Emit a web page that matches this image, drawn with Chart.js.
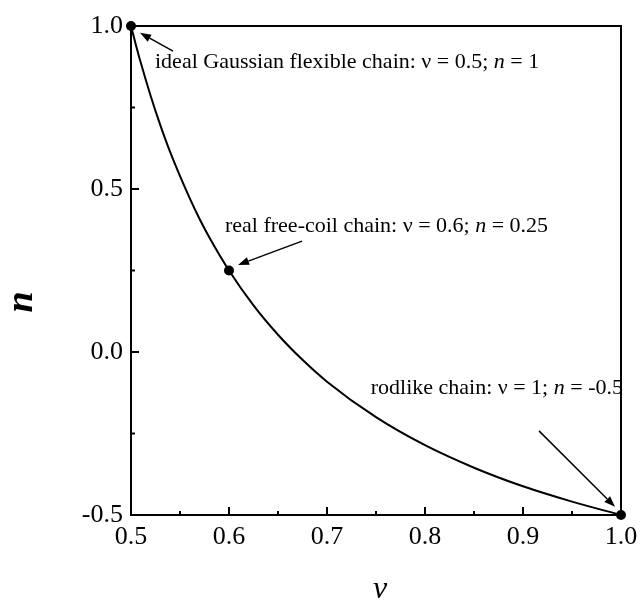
<!DOCTYPE html>
<html>
<head>
<meta charset="utf-8">
<script src="https://cdn.jsdelivr.net/npm/chart.js@4"></script>
<style>
html, body { margin: 0; padding: 0; background: #fff; }
</style>
</head>
<body>
<canvas id="chart" width="641" height="602"></canvas>
<script>
/** Data */
const nuValues = [0.5, 0.505, 0.51, 0.52, 0.53, 0.54, 0.56, 0.57, 0.58, 0.6, 0.625, 0.65, 0.675, 0.7, 0.75, 0.8, 0.85, 0.9, 0.95, 1.0];
const nValues  = [1.0, 0.942, 0.887, 0.786, 0.695, 0.613, 0.471, 0.408, 0.351, 0.25, 0.143, 0.053, -0.024, -0.091, -0.2, -0.286, -0.355, -0.412, -0.459, -0.5];

const markNu = [0.5, 0.6, 1.0];
const markN  = [1.0, 0.25, -0.5];

const xMajorTicks = [0.5, 0.6, 0.7, 0.8, 0.9, 1.0];
const xMinorTicks = [0.55, 0.65, 0.75, 0.85, 0.95];
const yMajorTicks = [-0.5, 0.0, 0.5, 1.0];
const yMinorTicks = [-0.25, 0.25, 0.75];

const NU = '\u03BD';

/** Annotations (anchor in data units) */
const notes = [
    { parts: [['ideal Gaussian flexible chain: ' + NU + ' = 0.5; ', false], ['n', true], [' = 1', false]],
      at: [0.5245, 0.871], align: 'left', tail: [0.5429, 0.923], head: [0.5092, 0.979] },
    { parts: [['real free-coil chain: ' + NU + ' = 0.6; ', false], ['n', true], [' = 0.25', false]],
      at: [0.5959, 0.368], align: 'left', tail: [0.6745, 0.340], head: [0.6092, 0.267] },
    { parts: [['rodlike chain: ' + NU + ' = 1; ', false], ['n', true], [' = -0.5', false]],
      at: [1.002, -0.129], align: 'right', tail: [0.9163, -0.242], head: [0.9939, -0.475] }
];

const SERIF = '"Liberation Serif", "Times New Roman", serif';
Chart.defaults.font.family = SERIF;
Chart.defaults.color = '#000';

const frame = {
    id: 'frame',
    afterDraw(chart) {
        const ctx = chart.ctx;
        const a = chart.chartArea;
        const x = chart.scales.x, y = chart.scales.y;
        ctx.save();
        ctx.strokeStyle = '#000';
        ctx.lineWidth = 2;
        // top and right border
        ctx.beginPath();
        ctx.moveTo(a.left, a.top);
        ctx.lineTo(a.right, a.top);
        ctx.lineTo(a.right, a.bottom);
        ctx.stroke();

        // inside ticks
        ctx.beginPath();
        xMajorTicks.forEach(v => { const p = x.getPixelForValue(v); ctx.moveTo(p, a.bottom); ctx.lineTo(p, a.bottom - 8); });
        xMinorTicks.forEach(v => { const p = x.getPixelForValue(v); ctx.moveTo(p, a.bottom); ctx.lineTo(p, a.bottom - 4); });
        yMajorTicks.forEach(v => { const p = y.getPixelForValue(v); ctx.moveTo(a.left, p); ctx.lineTo(a.left + 8, p); });
        yMinorTicks.forEach(v => { const p = y.getPixelForValue(v); ctx.moveTo(a.left, p); ctx.lineTo(a.left + 4, p); });
        ctx.stroke();

        // annotations
        ctx.fillStyle = '#000';
        ctx.textBaseline = 'alphabetic';
        ctx.textAlign = 'left';
        notes.forEach(nt => {
            const fontOf = it => (it ? 'italic ' : '') + '22px ' + SERIF;
            let total = 0;
            nt.parts.forEach(([t, it]) => { ctx.font = fontOf(it); total += ctx.measureText(t).width; });
            let px = x.getPixelForValue(nt.at[0]);
            const py = y.getPixelForValue(nt.at[1]);
            if (nt.align === 'right') px -= total;
            nt.parts.forEach(([t, it]) => { ctx.font = fontOf(it); ctx.fillText(t, px, py); px += ctx.measureText(t).width; });

            const tx = x.getPixelForValue(nt.tail[0]), ty = y.getPixelForValue(nt.tail[1]);
            const hx = x.getPixelForValue(nt.head[0]), hy = y.getPixelForValue(nt.head[1]);
            const ang = Math.atan2(hy - ty, hx - tx);
            const len = 11, half = 4;
            const bx = hx - len * Math.cos(ang), by = hy - len * Math.sin(ang);
            ctx.lineWidth = 1.5;
            ctx.beginPath();
            ctx.moveTo(tx, ty);
            ctx.lineTo(bx, by);
            ctx.stroke();
            ctx.beginPath();
            ctx.moveTo(hx, hy);
            ctx.lineTo(bx + half * Math.sin(ang), by - half * Math.cos(ang));
            ctx.lineTo(bx - half * Math.sin(ang), by + half * Math.cos(ang));
            ctx.closePath();
            ctx.fill();
        });

        // axis titles
        ctx.textAlign = 'center';
        ctx.textBaseline = 'middle';
        ctx.font = 'italic 32px ' + SERIF;
        ctx.fillText(NU, (a.left + a.right) / 2 + 4, 590);
        ctx.save();
        ctx.translate(22, 302);
        ctx.rotate(-Math.PI / 2);
        ctx.font = 'italic bold 38px ' + SERIF;
        ctx.fillText('n', 0, 0);
        ctx.restore();
        ctx.restore();
    }
};

new Chart(document.getElementById('chart'), {
    type: 'scatter',
    data: {
        datasets: [{
            data: nuValues.map((v, i) => ({ x: v, y: nValues[i] })),
            showLine: true,
            borderColor: '#000',
            borderWidth: 2,
            pointRadius: 0,
            cubicInterpolationMode: 'monotone',
            clip: false
        }, {
            data: markNu.map((v, i) => ({ x: v, y: markN[i] })),
            pointRadius: 5,
            pointBackgroundColor: '#000',
            pointBorderColor: '#000',
            borderWidth: 0,
            clip: false
        }]
    },
    options: {
        responsive: false,
        animation: false,
        layout: { padding: { top: 26, right: 20, left: 0, bottom: 0 } },
        plugins: {
            legend: { display: false },
            tooltip: { enabled: false }
        },
        scales: {
            x: {
                type: 'linear',
                min: 0.5,
                max: 1.0,
                afterFit: s => { s.height = 87; s.paddingLeft = 0; s.paddingRight = 0; },
                grid: { display: false, drawTicks: false },
                border: { display: true, color: '#000', width: 2 },
                ticks: {
                    stepSize: 0.1,
                    padding: 7,
                    font: { size: 26 },
                    color: '#000',
                    callback: v => v.toFixed(1)
                }
            },
            y: {
                type: 'linear',
                min: -0.5,
                max: 1.0,
                afterFit: s => { s.width = 131; s.paddingTop = 0; s.paddingBottom = 0; },
                grid: { display: false, drawTicks: false },
                border: { display: true, color: '#000', width: 2 },
                ticks: {
                    stepSize: 0.5,
                    padding: 8,
                    font: { size: 26 },
                    color: '#000',
                    callback: v => v.toFixed(1)
                }
            }
        }
    },
    plugins: [frame]
});
</script>
</body>
</html>
